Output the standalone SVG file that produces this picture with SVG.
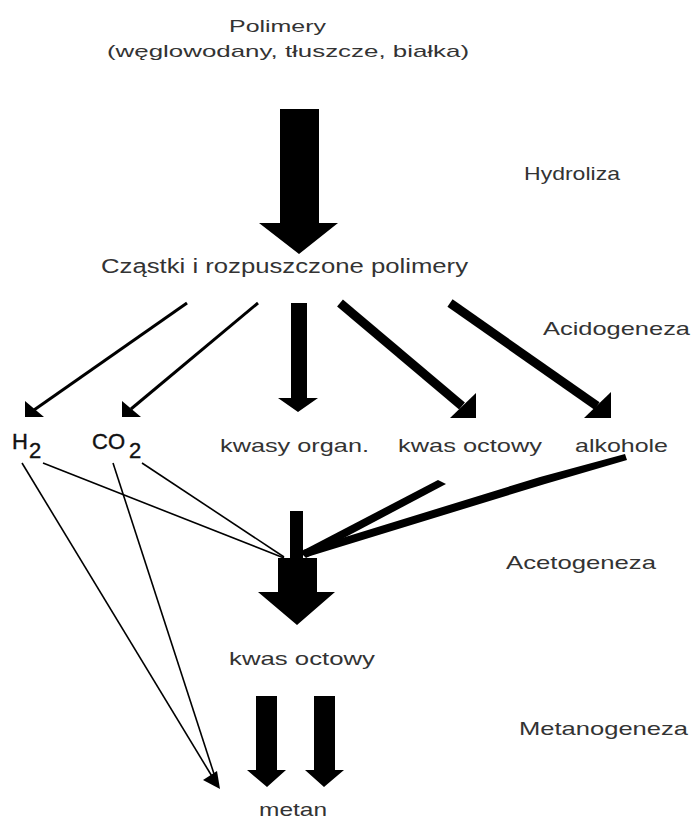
<svg xmlns="http://www.w3.org/2000/svg" width="693" height="819" viewBox="0 0 693 819">
<style>
.t{font-family:"Liberation Sans",Arial,sans-serif;fill:#333;}
.f{font-family:"Liberation Sans",Arial,sans-serif;fill:#111;font-size:22px;stroke:#111;stroke-width:0.4;}
.thin{stroke:#000;stroke-width:1.6;fill:none;}
.mid{stroke:#000;stroke-width:3;fill:none;}
.thick{stroke:#000;stroke-width:9;fill:none;}
.fill{fill:#000;}
</style>
<rect width="693" height="819" fill="#fff"/>
<g id="connectors">
  <!-- Hydroliza -->
  <polygon class="fill" points="280,109 319,109 319,223 338,223 299,254 259,223 280,223"/>
  <!-- Acidogeneza -->
  <line class="mid" x1="187" y1="303" x2="34" y2="410"/>
  <polygon class="fill" points="25,417 25,401 44,417"/>
  <line class="mid" x1="258" y1="303" x2="131" y2="409"/>
  <polygon class="fill" points="122,417 122,401 141,417"/>
  <polygon class="fill" points="291,303 307,303 307,398 318,398 298,412 278,398 291,398"/>
  <line class="thick" x1="340" y1="303" x2="462" y2="406"/>
  <polygon class="fill" points="476,418 476,393 450,418"/>
  <line class="thick" x1="450" y1="303" x2="597" y2="406"/>
  <polygon class="fill" points="611,418 611,392 584,418"/>
  <!-- Acetogeneza -->
  <line class="thin" x1="43" y1="463" x2="284" y2="558"/>
  <line class="thin" x1="142" y1="463" x2="284" y2="557"/>
  <polygon class="fill" points="438,480 446,484 306,558 300,552"/>
  <polygon class="fill" points="625,454 627,460 545,484 307,557 303,550 540,477"/>
  <polygon class="fill" points="290,511 303,511 303,558 317,558 317,592 335,592 297,625 258,592 278,592 278,558 290,558"/>
  <!-- Metanogeneza -->
  <line class="thin" x1="22" y1="463" x2="213" y2="778"/>
  <line class="thin" x1="113" y1="463" x2="215" y2="777"/>
  <polygon class="fill" points="220,789 217,771 203,780"/>
  <polygon class="fill" points="256,696 277,696 277,770 286,770 267,787 247,770 256,770"/>
  <polygon class="fill" points="314,696 335,696 335,770 344,770 324,787 305,770 314,770"/>
</g>
<g id="polimery">
  <text class="t" x="229" y="32" font-size="17" textLength="97" lengthAdjust="spacingAndGlyphs">Polimery</text>
  <text class="t" x="107" y="57" font-size="17" textLength="362" lengthAdjust="spacingAndGlyphs">(węglowodany, tłuszcze, białka)</text>
</g>
<g id="hydroliza"><text class="t" x="524" y="180" font-size="19" textLength="96" lengthAdjust="spacingAndGlyphs">Hydroliza</text></g>
<g id="czastki"><text class="t" x="101" y="273" font-size="19.5" textLength="367" lengthAdjust="spacingAndGlyphs">Cząstki i rozpuszczone polimery</text></g>
<g id="acidogeneza"><text class="t" x="543" y="335" font-size="19" textLength="147" lengthAdjust="spacingAndGlyphs">Acidogeneza</text></g>
<g id="h2"><text class="f" x="12" y="449">H<tspan x="29" y="458">2</tspan></text></g>
<g id="co2"><text class="f" x="92" y="449">CO<tspan x="129" y="458">2</tspan></text></g>
<g id="kwasy-organ"><text class="t" x="220" y="452" font-size="19" textLength="149" lengthAdjust="spacingAndGlyphs">kwasy organ.</text></g>
<g id="kwas-octowy-1"><text class="t" x="398" y="452" font-size="19" textLength="144" lengthAdjust="spacingAndGlyphs">kwas octowy</text></g>
<g id="alkohole"><text class="t" x="575" y="452" font-size="19" textLength="93" lengthAdjust="spacingAndGlyphs">alkohole</text></g>
<g id="acetogeneza"><text class="t" x="506" y="569" font-size="19" textLength="150" lengthAdjust="spacingAndGlyphs">Acetogeneza</text></g>
<g id="kwas-octowy-2"><text class="t" x="229" y="665" font-size="19" textLength="146" lengthAdjust="spacingAndGlyphs">kwas octowy</text></g>
<g id="metanogeneza"><text class="t" x="519" y="735" font-size="19" textLength="169" lengthAdjust="spacingAndGlyphs">Metanogeneza</text></g>
<g id="metan"><text class="t" x="259" y="816" font-size="19" textLength="68" lengthAdjust="spacingAndGlyphs">metan</text></g>
</svg>
